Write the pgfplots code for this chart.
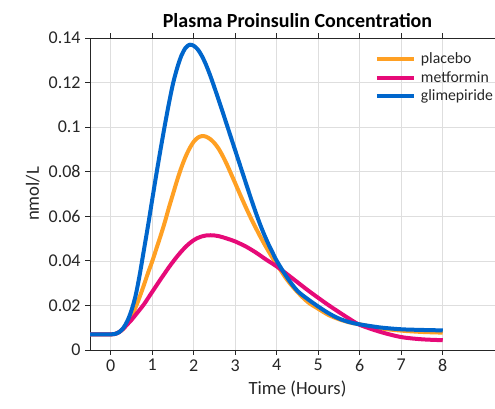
\documentclass[border=0pt]{standalone}
\usepackage{pgfplots}
\pgfplotsset{compat=1.18}
\usepackage{fontspec}
\setmainfont{Carlito}
\definecolor{cplac}{RGB}{255,160,35}
\definecolor{cmetf}{RGB}{230,10,120}
\definecolor{cglim}{RGB}{0,102,204}
\definecolor{ctxt}{RGB}{38,38,38}
\begin{document}
\begin{tikzpicture}
\begin{axis}[name=ax, scale only axis, width=311.25pt, height=234pt,
  xmin=-0.5, xmax=9.5, ymin=0, ymax=0.14,
  xtick={0,1,2,3,4,5,6,7,8},
  ytick={0,0.02,0.04,0.06,0.08,0.1,0.12,0.14},
  ytick pos=left, xtick pos=both,
  tick align=outside, major tick length=3.5pt,
  scaled y ticks=false,
  yticklabel style={/pgf/number format/fixed, /pgf/number format/precision=2},
  /pgf/number format/assume math mode=true,
  grid=major, grid style={black!13, line width=0.5pt},
  axis line style={ctxt, line width=0.6pt},
  tick style={ctxt, line width=0.6pt},
  ticklabel style={font=\fontsize{13.5}{15}\selectfont, text=ctxt},
  title={Plasma Proinsulin Concentration},
  title style={font=\fontsize{15}{17}\selectfont\bfseries, text=black, yshift=-2pt},
  xlabel={Time (Hours)}, ylabel={nmol/L},
  label style={font=\fontsize{14}{16}\selectfont, text=ctxt},
  legend style={draw=none, fill=none, at={(0.686,0.97)}, anchor=north west,
    font=\fontsize{11.8}{15.5}\selectfont, text=ctxt, row sep=0pt,
    legend cell align=left, inner xsep=0pt,
    nodes={inner xsep=1.5pt}},
  legend image code/.code={\draw[#1, line width=3pt] (0pt,0pt) -- (28pt,0pt);},
  every axis plot/.append style={line width=3pt, line join=round},
]
\addplot[cplac, smooth] coordinates {
(-0.5,0.007)(-0.25,0.007)(0,0.007)(0.1,0.0072)(0.2,0.0080)(0.3,0.0095)(0.4,0.0120)
(0.5,0.0152)(0.6,0.0192)(0.7,0.0240)(0.8,0.0292)(0.9,0.0347)(1.0,0.0398)(1.1,0.0455)
(1.2,0.0512)(1.3,0.0572)(1.4,0.0638)(1.5,0.0700)(1.6,0.0762)(1.7,0.0818)(1.8,0.0866)
(1.9,0.0905)(2.0,0.0935)(2.1,0.0953)(2.2,0.0960)(2.3,0.0957)(2.4,0.0946)(2.5,0.0928)
(2.6,0.0903)(2.7,0.0870)(2.8,0.0832)(2.9,0.0790)(3.0,0.0748)(3.1,0.0705)(3.2,0.0663)
(3.3,0.0622)(3.4,0.0583)(3.5,0.0546)(3.6,0.0510)(3.7,0.0476)(3.8,0.0444)(3.9,0.0413)
(4.0,0.0384)(4.25,0.0315)(4.5,0.0260)(4.75,0.0215)(5.0,0.0185)(5.25,0.0157)(5.5,0.0138)
(5.75,0.0124)(6.0,0.0115)(6.5,0.0097)(7.0,0.0087)(7.5,0.0081)(8.0,0.0078)};
\addlegendentry{\hspace{2pt}placebo}
\addplot[cmetf, smooth] coordinates {
(-0.5,0.007)(-0.25,0.007)(0,0.007)(0.1,0.0072)(0.2,0.0080)(0.3,0.0095)(0.4,0.0115)
(0.5,0.0135)(0.6,0.0158)(0.7,0.0181)(0.8,0.0205)(0.9,0.0233)(1.0,0.0261)(1.1,0.0289)
(1.2,0.0317)(1.3,0.0344)(1.4,0.0371)(1.5,0.0396)(1.6,0.0420)(1.7,0.0442)(1.8,0.0462)
(1.9,0.0479)(2.0,0.0493)(2.1,0.0503)(2.2,0.0510)(2.3,0.0514)(2.4,0.0515)(2.5,0.0514)
(2.6,0.0511)(2.7,0.0506)(2.8,0.0500)(2.9,0.0494)(3.0,0.0487)(3.25,0.0465)(3.5,0.0437)
(3.75,0.0405)(4.0,0.0375)(4.25,0.0340)(4.5,0.0304)(4.75,0.0268)(5.0,0.0234)(5.25,0.0201)
(5.5,0.0170)(5.75,0.0140)(6.0,0.0113)(6.5,0.0081)(7.0,0.0058)(7.5,0.0048)(8.0,0.0044)};
\addlegendentry{\hspace{2pt}metformin}
\addplot[cglim, smooth] coordinates {
(-0.5,0.007)(-0.25,0.007)(0,0.007)(0.1,0.0072)(0.2,0.0080)(0.3,0.0098)(0.4,0.0130)
(0.5,0.0178)(0.6,0.0245)(0.7,0.0340)(0.8,0.0450)(0.9,0.0560)(1.0,0.0676)(1.1,0.0790)
(1.2,0.0900)(1.3,0.1005)(1.4,0.1105)(1.5,0.1195)(1.6,0.1265)(1.7,0.1320)(1.8,0.1355)
(1.9,0.1370)(2.0,0.1365)(2.1,0.1348)(2.2,0.1318)(2.3,0.1278)(2.4,0.1230)(2.5,0.1177)
(2.6,0.1122)(2.7,0.1066)(2.8,0.1009)(2.9,0.0952)(3.0,0.0895)(3.1,0.0838)(3.2,0.0781)
(3.3,0.0724)(3.4,0.0668)(3.5,0.0614)(3.6,0.0563)(3.7,0.0517)(3.8,0.0475)(3.9,0.0437)
(4.0,0.0400)(4.25,0.0325)(4.5,0.0265)(4.75,0.0228)(5.0,0.0195)(5.25,0.0165)(5.5,0.0141)
(5.75,0.0125)(6.0,0.0115)(6.5,0.0101)(7.0,0.0093)(7.5,0.0090)(8.0,0.0088)};
\addlegendentry{\hspace{2pt}glimepiride}
\end{axis}
\pgfresetboundingbox
\path[use as bounding box] ([xshift=-67.5pt,yshift=-43.5pt]ax.south west) rectangle ([xshift=-7.5pt,yshift=28.5pt]ax.north east);
\end{tikzpicture}
\end{document}
